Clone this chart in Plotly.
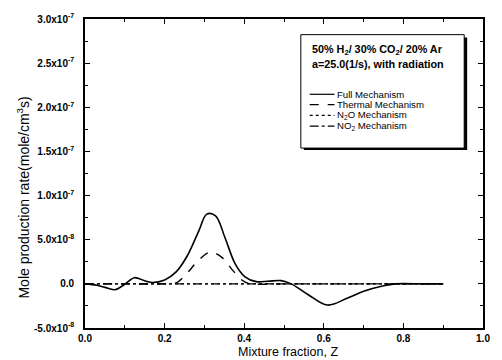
import plotly.graph_objects as go

# ---- data ----
z_full = [0, 0.03, 0.05, 0.075, 0.1, 0.124, 0.15, 0.17, 0.2, 0.229, 0.256, 0.286, 0.306, 0.328,
          0.352, 0.377, 0.402, 0.43, 0.46, 0.493, 0.518, 0.56, 0.609, 0.66, 0.70, 0.75, 0.78, 0.85, 0.9]
full_mech = [0, -0.15e-8, -0.4e-8, -0.66e-8, -0.05e-8, 0.7e-8, 0.35e-8, 0.15e-8, 0.44e-8, 1.36e-8,
             3.1e-8, 6.0e-8, 7.9e-8, 7.7e-8, 5.2e-8, 2.3e-8, 0.8e-8, 0.25e-8, 0.3e-8, 0.37e-8, 0,
             -1.2e-8, -2.4e-8, -1.6e-8, -0.85e-8, -0.22e-8, 0, 0, 0]

z_thermal = [0, 0.1, 0.2, 0.229, 0.256, 0.286, 0.315, 0.344, 0.368, 0.394, 0.41, 0.5, 0.6, 0.7, 0.8, 0.9]
thermal_mech = [0, 0, 0, 0.1e-8, 1.2e-8, 2.7e-8, 3.6e-8, 3.0e-8, 1.7e-8, 0.44e-8, 0.05e-8, 0, 0, 0, 0, 0]

z_minor = [0, 0.2, 0.4, 0.6, 0.8, 0.9]
n2o_mech = [0, 0, 0, 0, 0, 0]
no2_mech = [0, 0, 0, 0, 0, 0]

x_tickvals = [0.0, 0.2, 0.4, 0.6, 0.8, 1.0]
x_ticktext = ["0.0", "0.2", "0.4", "0.6", "0.8", "1.0"]
y_tickvals = [-5e-8, 0, 5e-8, 1e-7, 1.5e-7, 2e-7, 2.5e-7, 3e-7]
y_ticktext = ["-5.0x10<sup>-8</sup>", "0.0", "5.0x10<sup>-8</sup>", "1.0x10<sup>-7</sup>",
              "1.5x10<sup>-7</sup>", "2.0x10<sup>-7</sup>", "2.5x10<sup>-7</sup>", "3.0x10<sup>-7</sup>"]

legend_title = ["<b>50% H<sub>2</sub>/ 30% CO<sub>2</sub>/ 20% Ar</b>",
                "<b>a=25.0(1/s), with radiation</b>"]
legend_names = ["Full Mechanism", "Thermal Mechanism", "N<sub>2</sub>O Mechanism", "NO<sub>2</sub> Mechanism"]
legend_dash = ["solid", "dash", "dot", "dashdot"]

FONT = "Liberation Sans"

fig = go.Figure()
fig.add_trace(go.Scatter(x=z_full, y=full_mech, mode="lines", line=dict(color="black", width=1.6, dash="solid"),
                         line_shape="spline", name=legend_names[0], showlegend=False))
fig.add_trace(go.Scatter(x=z_thermal, y=thermal_mech, mode="lines", line=dict(color="black", width=1.4, dash="dash"),
                         line_shape="spline", name=legend_names[1], showlegend=False))
fig.add_trace(go.Scatter(x=z_minor, y=n2o_mech, mode="lines", line=dict(color="black", width=1.0, dash="dot"),
                         name=legend_names[2], showlegend=False))
fig.add_trace(go.Scatter(x=z_minor, y=no2_mech, mode="lines", line=dict(color="black", width=1.2, dash="dashdot"),
                         name=legend_names[3], showlegend=False))

L, R, T, B = 85, 487, 12, 328
W, H = R - L, B - T


def px(xp):
    return (xp - L) / W


def py(yp):
    return (B - yp) / H


shapes = []
annotations = []
# legend box with shadow
bx0, bx1, by0, by1 = 303, 468, 28, 144
shapes.append(dict(type="rect", xref="paper", yref="paper", x0=px(bx0 + 3), x1=px(bx1 + 3), y0=py(by1 + 2), y1=py(by0 + 3),
                   fillcolor="black", line=dict(width=0), layer="above"))
shapes.append(dict(type="rect", xref="paper", yref="paper", x0=px(bx0), x1=px(bx1), y0=py(by1), y1=py(by0),
                   fillcolor="white", line=dict(color="black", width=1), layer="above"))
for i, t in enumerate(legend_title):
    annotations.append(dict(text=t, xref="paper", yref="paper", x=px(312), y=py(44 + 14 * i), xanchor="left",
                            yanchor="middle", showarrow=False, font=dict(family=FONT, size=10.8, color="black")))
row_y = [89, 99.5, 110.5, 121.5]
for i, (n, d) in enumerate(zip(legend_names, legend_dash)):
    shapes.append(dict(type="line", xref="paper", yref="paper", x0=px(312), x1=px(337), y0=py(row_y[i]), y1=py(row_y[i]),
                       line=dict(color="black", width=1.2, dash=d), layer="above"))
    annotations.append(dict(text=n, xref="paper", yref="paper", x=px(339), y=py(row_y[i]), xanchor="left",
                            yanchor="middle", showarrow=False, borderpad=0,
                            font=dict(family=FONT, size=9.6, color="black")))

# axis titles
annotations.append(dict(text="Mixture fraction, Z", xref="paper", yref="paper", x=px(290), y=py(353),
                        xanchor="center", yanchor="middle", showarrow=False, borderpad=0,
                        font=dict(family=FONT, size=12.5, color="black")))
annotations.append(dict(text="Mole production rate(mole/cm<sup>3</sup>s)", xref="paper", yref="paper", x=px(22), y=py(195),
                        xanchor="center", yanchor="middle", textangle=-90, showarrow=False,
                        font=dict(family=FONT, size=14, color="black")))

axis_common = dict(showline=True, linecolor="black", linewidth=1.6, mirror="ticks", ticks="inside", ticklen=5,
                   tickwidth=1.2, tickcolor="black", showgrid=False, zeroline=False,
                   tickfont=dict(family=FONT, size=10, color="black", weight="bold"))

fig.update_layout(
    width=502, height=360,
    margin=dict(l=L, r=502 - R, t=T, b=360 - B),
    paper_bgcolor="white", plot_bgcolor="white",
    showlegend=False,
    xaxis=dict(range=[0, 1], tickvals=x_tickvals, ticktext=x_ticktext, ticklabelstandoff=0,
               minor=dict(dtick=0.1, tick0=0, ticks="inside", ticklen=3, tickcolor="black"), **axis_common),
    yaxis=dict(range=[-5e-8, 3e-7], tickvals=y_tickvals, ticktext=y_ticktext, ticklabelstandoff=7,
               minor=dict(dtick=2.5e-8, tick0=0, ticks="inside", ticklen=3, tickcolor="black"), **axis_common),
    shapes=shapes, annotations=annotations,
)

fig.write_html("out.html", config={"displayModeBar": False},
               post_script="document.body.style.margin='0';document.body.style.padding='0';")
